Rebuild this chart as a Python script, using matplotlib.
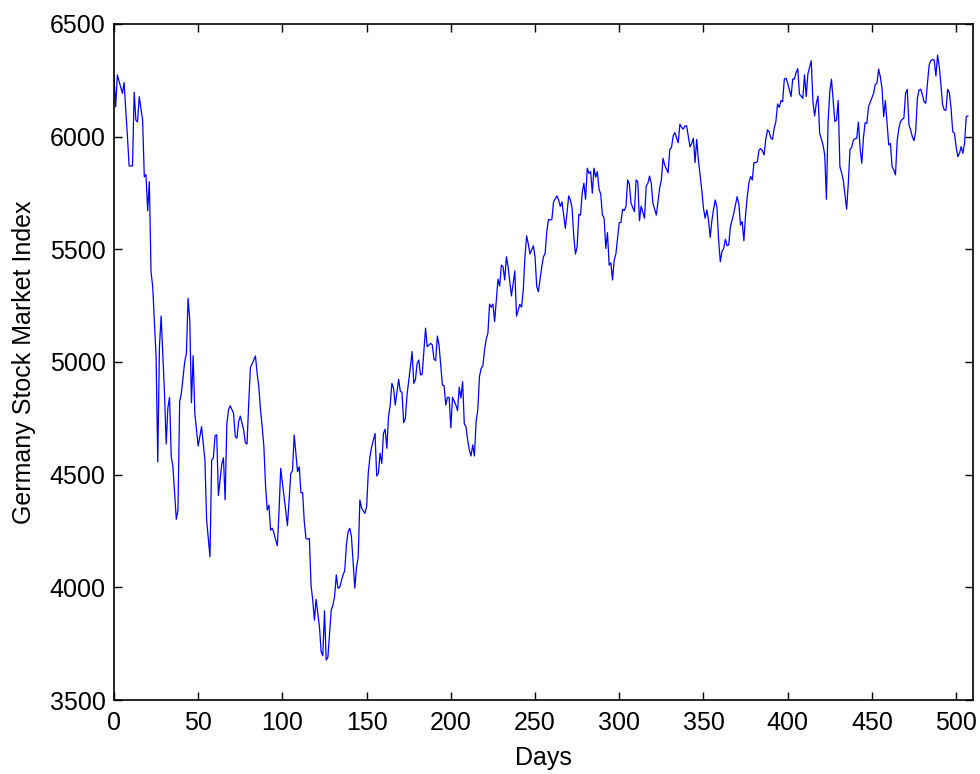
import matplotlib
matplotlib.use('Agg')
import matplotlib.pyplot as plt

# MATLAB-ish look
plt.rcParams['font.family'] = ['Liberation Sans', 'DejaVu Sans']
LINE_BLUE = '#0000FF'

# Germany stock market index (day, level)
days = [
    0, 1, 2, 4, 5, 6, 8, 9, 11, 12,
    13, 14, 15, 17, 18, 19, 20, 21, 22, 23,
    25, 26, 27, 28, 30, 31, 32, 33, 34, 35,
    37, 38, 39, 40, 42, 43, 44, 45, 46, 47,
    48, 50, 52, 54, 55, 57, 58, 59, 60, 61,
    62, 64, 65, 66, 67, 68, 69, 71, 72, 73,
    74, 75, 77, 78, 79, 80, 81, 82, 84, 85,
    86, 87, 88, 89, 90, 91, 92, 93, 94, 95,
    96, 97, 98, 99, 101, 103, 105, 106, 107, 109,
    110, 111, 112, 113, 114, 115, 116, 117, 118, 119,
    120, 122, 123, 124, 125, 126, 127, 129, 130, 131,
    132, 133, 134, 136, 137, 138, 139, 140, 141, 143,
    144, 145, 146, 147, 149, 150, 151, 152, 153, 155,
    156, 157, 158, 159, 160, 161, 162, 163, 164, 165,
    166, 167, 169, 170, 171, 172, 173, 174, 176, 177,
    178, 179, 180, 181, 182, 183, 185, 186, 188, 189,
    190, 191, 192, 193, 195, 196, 197, 198, 199, 200,
    201, 203, 204, 205, 206, 207, 208, 209, 210, 211,
    212, 213, 214, 215, 216, 217, 218, 219, 220, 221,
    222, 223, 224, 225, 226, 227, 228, 229, 230, 231,
    232, 233, 234, 236, 237, 238, 239, 241, 242, 243,
    244, 245, 246, 247, 249, 250, 251, 252, 254, 255,
    256, 257, 258, 259, 260, 261, 263, 264, 265, 266,
    267, 268, 270, 271, 272, 273, 274, 275, 276, 277,
    278, 279, 280, 281, 282, 283, 284, 285, 286, 287,
    288, 289, 290, 291, 292, 293, 294, 295, 296, 297,
    298, 300, 301, 302, 303, 304, 305, 306, 307, 309,
    310, 311, 312, 313, 315, 316, 317, 318, 319, 320,
    322, 323, 324, 325, 326, 327, 329, 330, 331, 332,
    333, 335, 336, 337, 338, 339, 340, 342, 343, 344,
    345, 346, 347, 349, 350, 351, 352, 353, 354, 355,
    356, 357, 358, 359, 360, 361, 362, 363, 364, 365,
    366, 368, 369, 370, 371, 372, 373, 374, 375, 376,
    377, 378, 379, 380, 381, 382, 383, 384, 385, 386,
    387, 388, 389, 390, 391, 392, 393, 394, 395, 396,
    397, 398, 399, 400, 402, 403, 404, 405, 406, 407,
    409, 410, 411, 412, 414, 415, 416, 417, 418, 419,
    421, 422, 423, 424, 425, 426, 428, 429, 430, 431,
    432, 433, 435, 436, 437, 438, 439, 440, 441, 442,
    443, 444, 445, 446, 447, 448, 450, 451, 452, 453,
    454, 455, 456, 457, 458, 459, 460, 461, 462, 463,
    464, 465, 466, 467, 468, 469, 470, 471, 472, 473,
    474, 475, 476, 477, 478, 479, 480, 481, 482, 483,
    484, 485, 486, 487, 488, 489, 490, 491, 492, 493,
    494, 495, 496, 497, 498, 499, 500, 501, 502, 503,
    504, 505, 506, 507,
]
index_level = [
    6270, 6133, 6274, 6220, 6192, 6240, 6000, 5870, 5870, 6197,
    6074, 6065, 6177, 6074, 5822, 5832, 5671, 5800, 5401, 5334,
    5023, 4557, 5068, 5204, 4861, 4636, 4797, 4843, 4580, 4535,
    4302, 4343, 4824, 4861, 5001, 5038, 5283, 5186, 4819, 5028,
    4772, 4627, 4713, 4565, 4299, 4136, 4565, 4574, 4672, 4677,
    4408, 4547, 4575, 4388, 4725, 4787, 4806, 4772, 4669, 4662,
    4735, 4760, 4698, 4642, 4636, 4817, 4976, 4991, 5027, 4950,
    4890, 4788, 4713, 4624, 4450, 4343, 4365, 4254, 4262, 4240,
    4210, 4185, 4336, 4528, 4402, 4274, 4506, 4518, 4676, 4513,
    4535, 4420, 4420, 4291, 4217, 4214, 4217, 4010, 3944, 3855,
    3947, 3825, 3714, 3697, 3896, 3677, 3690, 3899, 3921, 3960,
    4055, 3996, 4000, 4055, 4074, 4188, 4247, 4262, 4225, 3996,
    4089, 4133, 4388, 4351, 4328, 4358, 4509, 4580, 4624, 4683,
    4494, 4506, 4595, 4550, 4683, 4702, 4617, 4757, 4809, 4905,
    4883, 4809, 4923, 4871, 4865, 4731, 4750, 4854, 4979, 5046,
    4905, 4923, 4994, 5009, 4942, 4946, 5150, 5068, 5083, 5075,
    5012, 5006, 5115, 5075, 4898, 4895, 4809, 4843, 4843, 4708,
    4843, 4809, 4784, 4888, 4840, 4913, 4725, 4713, 4654, 4609,
    4583, 4632, 4583, 4735, 4787, 4935, 4972, 4982, 5053, 5101,
    5127, 5257, 5243, 5257, 5179, 5275, 5368, 5337, 5430, 5423,
    5364, 5467, 5423, 5293, 5349, 5404, 5204, 5256, 5243, 5319,
    5467, 5560, 5524, 5479, 5516, 5467, 5334, 5312, 5423, 5467,
    5482, 5581, 5633, 5630, 5633, 5711, 5737, 5719, 5690, 5711,
    5652, 5593, 5737, 5719, 5684, 5556, 5479, 5512, 5655, 5652,
    5751, 5793, 5722, 5860, 5837, 5845, 5749, 5860, 5820, 5845,
    5766, 5746, 5652, 5640, 5504, 5574, 5430, 5440, 5364, 5452,
    5480, 5618, 5620, 5678, 5672, 5690, 5808, 5789, 5704, 5667,
    5808, 5800, 5627, 5692, 5638, 5781, 5793, 5825, 5793, 5704,
    5652, 5711, 5771, 5808, 5904, 5874, 5840, 5944, 5951, 6003,
    6018, 5973, 6055, 6042, 6033, 6048, 6048, 5955, 5970, 5993,
    5885, 5988, 5896, 5763, 5682, 5638, 5675, 5630, 5553, 5627,
    5678, 5719, 5686, 5541, 5445, 5490, 5504, 5545, 5516, 5520,
    5600, 5660, 5697, 5734, 5701, 5608, 5623, 5538, 5652, 5734,
    5796, 5823, 5808, 5885, 5885, 5889, 5941, 5947, 5937, 5919,
    5988, 6030, 6022, 5993, 5988, 6037, 6067, 6145, 6130, 6160,
    6155, 6255, 6260, 6238, 6178, 6256, 6256, 6284, 6302, 6189,
    6170, 6274, 6178, 6278, 6337, 6155, 6092, 6148, 6180, 6015,
    5963, 5919, 5722, 6067, 6200, 6255, 6067, 6074, 6160, 5867,
    5840, 5808, 5678, 5793, 5944, 5952, 5985, 5991, 5993, 6064,
    5948, 5882, 5997, 6062, 6059, 6133, 6173, 6192, 6232, 6237,
    6300, 6266, 6215, 6089, 6160, 6059, 5963, 5970, 5867, 5852,
    5830, 5980, 6037, 6067, 6077, 6082, 6192, 6210, 6052, 6030,
    6000, 5982, 6023, 6170, 6207, 6210, 6185, 6155, 6148, 6237,
    6318, 6337, 6343, 6340, 6269, 6362, 6311, 6229, 6141, 6118,
    6118, 6210, 6195, 6126, 6022, 6015, 5956, 5911, 5926, 5956,
    5926, 5970, 6089, 6092,
]
assert len(days) == len(index_level)

x_ticks = list(range(0, 501, 50))
y_ticks = list(range(3500, 6501, 500))

fig = plt.figure(figsize=(9.8, 7.74), dpi=100, facecolor='white')
ax = fig.add_axes([0.1163, 0.0956, 0.8765, 0.8734])

ax.plot(days, index_level, color=LINE_BLUE, linewidth=0.9)

ax.set_xlim(0, 510)
ax.set_ylim(3500, 6500)
ax.set_xticks(x_ticks)
ax.set_yticks(y_ticks)

# ticks inside, mirrored on top and right like MATLAB
ax.tick_params(direction='in', length=6, width=1, labelsize=18,
               top=True, right=True, pad=6)
ax.tick_params(axis='x', pad=8)
for sp in ax.spines.values():
    sp.set_linewidth(1.2)

ax.set_xlabel('Days', fontsize=18, labelpad=8)
ax.set_ylabel('Germany Stock Market Index', fontsize=18, labelpad=10)

plt.savefig('out.png', dpi=100, facecolor='white')
